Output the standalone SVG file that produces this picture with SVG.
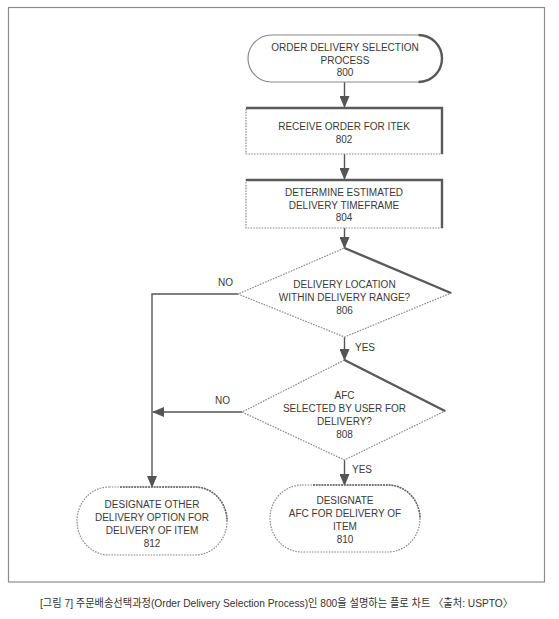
<svg xmlns="http://www.w3.org/2000/svg" width="559" height="619" viewBox="0 0 559 619">
<defs>
<style>
text{font-family:"Liberation Sans",Arial,"Noto Sans CJK KR",sans-serif;font-size:10px;fill:#3a3a3a;text-anchor:middle}
.lbl{text-anchor:start}
.dot{fill:#fff;stroke:#8a8a8a;stroke-width:1.2;stroke-dasharray:1.6 1.2}
.solid{fill:#fff;stroke:#8a8a8a;stroke-width:1.2}
.shadow{fill:none;stroke:#5a5a5a;stroke-width:2.4}
.soft{fill:none;stroke:#666;stroke-width:1.5;stroke-dasharray:2 0.8}
.edge{fill:none;stroke:#555;stroke-width:1.4}
.cap{font-size:11px;text-anchor:start;fill:#333}
</style>
<marker id="ah" viewBox="0 0 12 10" refX="11" refY="5" markerWidth="12" markerHeight="10" markerUnits="userSpaceOnUse" orient="auto">
<path d="M0,0 L12,5 L0,10 Z" fill="#555"/>
</marker>
</defs>
<rect width="559" height="619" fill="#fff"/>
<rect x="8.5" y="7.5" width="536" height="574.5" fill="none" stroke="#8c8c8c" stroke-width="1.2"/>

<g id="connectors">
<line class="edge" x1="344.5" y1="82" x2="344.5" y2="107" marker-end="url(#ah)"/>
<line class="edge" x1="344.5" y1="154" x2="344.5" y2="179" marker-end="url(#ah)"/>
<line class="edge" x1="344.5" y1="228" x2="344.5" y2="248" marker-end="url(#ah)"/>
<line class="edge" x1="344.5" y1="337" x2="344.5" y2="360" marker-end="url(#ah)"/>
<line class="edge" x1="344.5" y1="460" x2="344.5" y2="485" marker-end="url(#ah)"/>
<polyline class="edge" points="238,294 152,294 152,487" marker-end="url(#ah)"/>
<line class="edge" x1="242" y1="412" x2="153" y2="412" marker-end="url(#ah)"/>
<text class="lbl" x="218" y="285.5">NO</text>
<text class="lbl" x="215" y="403.5">NO</text>
<text class="lbl" x="355" y="350.5">YES</text>
<text class="lbl" x="352" y="472.5">YES</text>
</g>

<g id="n800">
<rect class="solid" x="248" y="35" width="194" height="47" rx="23.5"/>
<path class="shadow" d="M418.5,35 A23.5,23.5 0 0 1 418.5,82"/>
<text x="345" y="50.5">ORDER DELIVERY SELECTION</text>
<text x="345" y="63.5">PROCESS</text>
<text x="345" y="76">800</text>
</g>

<g id="n802">
<rect class="dot" x="246" y="108" width="196" height="46"/>
<path class="shadow" d="M246,108 H442 V154"/>
<text x="344" y="130">RECEIVE ORDER FOR ITEK</text>
<text x="344" y="143">802</text>
</g>

<g id="n804">
<rect class="dot" x="246" y="180" width="196" height="48"/>
<path class="shadow" d="M246,180 H442 V228"/>
<text x="344" y="196">DETERMINE ESTIMATED</text>
<text x="344" y="208.5">DELIVERY TIMEFRAME</text>
<text x="344" y="221">804</text>
</g>

<g id="n806">
<polygon class="dot" points="344.5,248 451,293 344.5,337 238,294"/>
<path class="shadow" d="M344.5,248 L451,293"/>
<text x="344.5" y="287.5">DELIVERY LOCATION</text>
<text x="344.5" y="300.5">WITHIN DELIVERY RANGE?</text>
<text x="344.5" y="313.5">806</text>
</g>

<g id="n808">
<polygon class="dot" points="344.5,360 445,411 344.5,460 242,412"/>
<path class="shadow" d="M344.5,360 L445,411"/>
<text x="344.5" y="398.5">AFC</text>
<text x="344.5" y="411.5">SELECTED BY USER FOR</text>
<text x="344.5" y="424.5">DELIVERY?</text>
<text x="344.5" y="437.5">808</text>
</g>

<g id="n812">
<rect class="dot" x="77" y="487" width="150" height="68" rx="32" ry="34"/>
<path class="soft" d="M120,487 H195 A32,34 0 0 1 227,521"/>
<text x="152" y="507.5">DESIGNATE OTHER</text>
<text x="152" y="520.5">DELIVERY OPTION FOR</text>
<text x="152" y="533.5">DELIVERY OF ITEM</text>
<text x="152" y="546.5">812</text>
</g>

<g id="n810">
<rect class="dot" x="270" y="485" width="150" height="67" rx="32" ry="33.5"/>
<path class="soft" d="M313,485 H388 A32,33.5 0 0 1 420,518.5"/>
<text x="345" y="503.5">DESIGNATE</text>
<text x="345" y="516.5">AFC FOR DELIVERY OF</text>
<text x="345" y="529.5">ITEM</text>
<text x="345" y="542.5">810</text>
</g>

<text class="cap" x="40" y="607" textLength="473" lengthAdjust="spacingAndGlyphs">[그림 7] 주문배송선택과정(Order Delivery Selection Process)인 800을 설명하는 플로 차트 〈출처: USPTO〉</text>
</svg>
